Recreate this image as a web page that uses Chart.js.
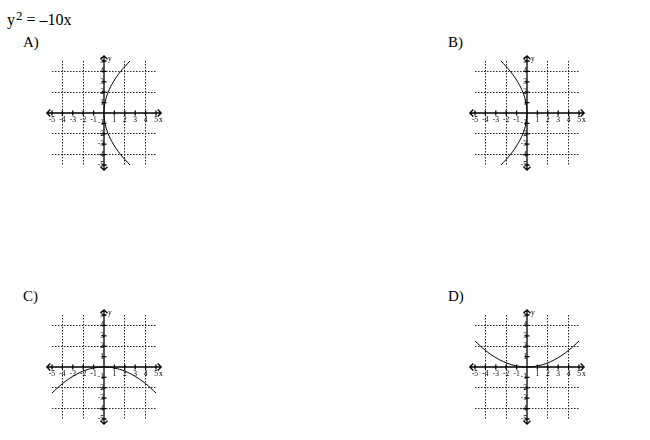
<!DOCTYPE html>
<html>
<head>
<meta charset="utf-8">
<script src="https://cdn.jsdelivr.net/npm/chart.js@4.4.1/dist/chart.umd.min.js"></script>
<style>
  body { margin: 0; background: #fff; width: 650px; height: 440px; position: relative; overflow: hidden;
         font-family: "Liberation Serif", "DejaVu Serif", serif; color: #000; }
  .title { position: absolute; left: 7px; top: 12px; font-size: 16px; line-height: 16px; white-space: nowrap; }
  .title sup { font-size: 13px; position: relative; top: -5px; vertical-align: baseline; margin-left: 1px; }
  .choice { position: absolute; font-size: 15px; line-height: 15px; }
  canvas { position: absolute; }
</style>
</head>
<body>
<div class="title">y<sup>2</sup> = –10x</div>

<script>
// values
var tickValues = [-5, -4, -3, -2, -1, 0, 1, 2, 3, 4, 5];
var curveY = [-5, -4, -3, -2, -1, 0, 1, 2, 3, 4, 5];
var curveX = [-5, -4, -3, -2, -1, 0, 1, 2, 3, 4, 5];
var openRightX = [2.5, 1.6, 0.9, 0.4, 0.1, 0, 0.1, 0.4, 0.9, 1.6, 2.5];      // A)
var openLeftX = [-2.5, -1.6, -0.9, -0.4, -0.1, 0, -0.1, -0.4, -0.9, -1.6, -2.5]; // B)
var openDownY = [-2.5, -1.6, -0.9, -0.4, -0.1, 0, -0.1, -0.4, -0.9, -1.6, -2.5]; // C)
var openUpY = [2.5, 1.6, 0.9, 0.4, 0.1, 0, 0.1, 0.4, 0.9, 1.6, 2.5];        // D)
var choiceLabels = ['A)', 'B)', 'C)', 'D)'];
var axisEnd = 5.5;

function toPoints(xs, ys) {
    return xs.map(function (x, i) { return { x: x, y: ys[i] }; });
}

var graphs = [
    { label: choiceLabels[0], left: 38, top: 47, labelX: 23, labelY: 35, points: toPoints(openRightX, curveY) },
    { label: choiceLabels[1], left: 461, top: 47, labelX: 448, labelY: 35, points: toPoints(openLeftX, curveY) },
    { label: choiceLabels[2], left: 38, top: 301, labelX: 23, labelY: 289, points: toPoints(curveX, openDownY) },
    { label: choiceLabels[3], left: 461, top: 301, labelX: 448, labelY: 289, points: toPoints(curveX, openUpY) }
];

// axis lines with arrows, tick marks and the x / y names
var axesPlugin = {
    id: 'axes',
    afterDraw: function (chart) {
        var ctx = chart.ctx;
        var xs = chart.scales.x, ys = chart.scales.y;
        var x0 = xs.getPixelForValue(0), y0 = ys.getPixelForValue(0);
        var xl = xs.getPixelForValue(-axisEnd), xr = xs.getPixelForValue(axisEnd);
        var yt = ys.getPixelForValue(axisEnd), yb = ys.getPixelForValue(-axisEnd);
        var a = 3.5;
        ctx.save();
        ctx.strokeStyle = '#000';
        ctx.lineWidth = 1.3;
        ctx.beginPath();
        ctx.moveTo(xl, y0); ctx.lineTo(xr, y0);
        ctx.moveTo(x0, yt); ctx.lineTo(x0, yb);
        ctx.moveTo(xl + a, y0 - a); ctx.lineTo(xl, y0); ctx.lineTo(xl + a, y0 + a);
        ctx.moveTo(xr - a, y0 - a); ctx.lineTo(xr, y0); ctx.lineTo(xr - a, y0 + a);
        ctx.moveTo(x0 - a, yt + a); ctx.lineTo(x0, yt); ctx.lineTo(x0 + a, yt + a);
        ctx.moveTo(x0 - a, yb - a); ctx.lineTo(x0, yb); ctx.lineTo(x0 + a, yb - a);
        tickValues.forEach(function (v) {
            if (v === 0) return;
            var px = xs.getPixelForValue(v);
            ctx.moveTo(px, y0 - 2.5); ctx.lineTo(px, y0 + 2.5);
            var py = ys.getPixelForValue(v);
            ctx.moveTo(x0 - 2.5, py); ctx.lineTo(x0 + 2.5, py);
        });
        ctx.stroke();
        ctx.fillStyle = '#000';
        ctx.font = '7.5px "Liberation Serif"';
        ctx.textBaseline = 'top';
        ctx.fillText('x', xs.getPixelForValue(5) + 3, y0 + 3);
        ctx.textBaseline = 'middle';
        ctx.fillText('y', x0 + 4, ys.getPixelForValue(5.2));
        ctx.restore();
    }
};

function gridColor(c) {
    var v = c.tick ? c.tick.value : 0;
    return (v !== 0 && v % 2 === 0) ? '#222' : 'rgba(0,0,0,0)';
}

function scaleOptions(pos) {
    return {
        type: 'linear',
        min: -5,
        max: 5,
        position: pos,
        grid: { color: gridColor, lineWidth: 1, drawTicks: false },
        border: { display: false, dash: [1.5, 1.5] },
        ticks: {
            stepSize: 1,
            autoSkip: false,
            maxRotation: 0,
            padding: 3,
            color: '#000',
            font: { family: 'Liberation Serif', size: 7.5 },
            callback: function (value) { return value === 0 ? '' : String(value); }
        }
    };
}

graphs.forEach(function (g) {
    var lbl = document.createElement('div');
    lbl.className = 'choice';
    lbl.style.left = g.labelX + 'px';
    lbl.style.top = g.labelY + 'px';
    lbl.textContent = g.label;
    document.body.appendChild(lbl);

    var canvas = document.createElement('canvas');
    canvas.width = 132;
    canvas.height = 132;
    canvas.style.left = g.left + 'px';
    canvas.style.top = g.top + 'px';
    document.body.appendChild(canvas);

    new Chart(canvas.getContext('2d'), {
        type: 'scatter',
        data: {
            datasets: [{
                data: g.points,
                showLine: true,
                borderColor: '#000',
                borderWidth: 1,
                pointRadius: 0,
                tension: 0.4,
                fill: false
            }]
        },
        options: {
            responsive: false,
            animation: false,
            events: [],
            layout: { padding: 14 },
            scales: {
                x: scaleOptions({ y: 0 }),
                y: scaleOptions({ x: 0 })
            },
            plugins: {
                legend: { display: false },
                tooltip: { enabled: false }
            }
        },
        plugins: [axesPlugin]
    });
});
</script>
</body>
</html>
